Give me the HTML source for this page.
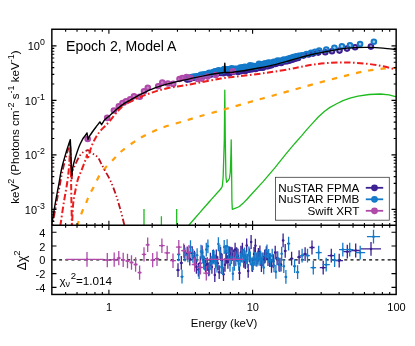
<!DOCTYPE html>
<html><head><meta charset="utf-8"><title>Epoch 2, Model A</title>
<style>
html,body{margin:0;padding:0;background:#fff;}
body{width:415px;height:346px;overflow:hidden;position:relative;font-family:"Liberation Sans",sans-serif;}
svg text{font-family:"Liberation Sans",sans-serif;}
</style></head><body>
<svg width="415" height="346" viewBox="0 0 415 346" style="position:absolute;left:0;top:0;will-change:transform">
<defs><clipPath id="ct"><rect x="51.9" y="29.2" width="344.3" height="196.1"/></clipPath>
<clipPath id="cb"><rect x="51.9" y="225.3" width="344.3" height="69.1"/></clipPath></defs>
<rect x="0" y="0" width="415" height="346" fill="#fff"/>
<g clip-path="url(#ct)" fill="none" stroke-width="2.0">
<g stroke="#3b1f93" fill="#3b1f93" fill-opacity="0.40">
<circle cx="187.1" cy="79.6" r="2.3"/>
<circle cx="189.5" cy="79.2" r="2.3"/>
<circle cx="192.2" cy="78.0" r="2.3"/>
<circle cx="194.4" cy="77.7" r="2.3"/>
<circle cx="196.1" cy="77.0" r="2.3"/>
<circle cx="198.1" cy="76.8" r="2.3"/>
<circle cx="200.2" cy="76.4" r="2.3"/>
<circle cx="201.9" cy="75.7" r="2.3"/>
<circle cx="203.9" cy="76.1" r="2.3"/>
<circle cx="205.5" cy="75.0" r="2.3"/>
<circle cx="207.5" cy="75.7" r="2.3"/>
<circle cx="208.7" cy="74.8" r="2.3"/>
<circle cx="210.2" cy="74.6" r="2.3"/>
<circle cx="212.1" cy="74.3" r="2.3"/>
<circle cx="213.2" cy="73.2" r="2.3"/>
<circle cx="214.7" cy="73.2" r="2.3"/>
<circle cx="216.3" cy="73.5" r="2.3"/>
<circle cx="217.5" cy="73.2" r="2.3"/>
<circle cx="219.3" cy="72.6" r="2.3"/>
<circle cx="220.7" cy="73.0" r="2.3"/>
<circle cx="222.0" cy="72.4" r="2.3"/>
<circle cx="223.6" cy="73.2" r="2.3"/>
<circle cx="224.8" cy="71.9" r="2.3"/>
<circle cx="226.6" cy="72.0" r="2.3"/>
<circle cx="228.0" cy="71.9" r="2.3"/>
<circle cx="229.1" cy="73.4" r="2.3"/>
<circle cx="230.7" cy="72.2" r="2.3"/>
<circle cx="232.2" cy="71.9" r="2.3"/>
<circle cx="233.4" cy="71.6" r="2.3"/>
<circle cx="235.1" cy="71.0" r="2.3"/>
<circle cx="236.8" cy="71.2" r="2.3"/>
<circle cx="238.1" cy="71.9" r="2.3"/>
<circle cx="239.5" cy="70.2" r="2.3"/>
<circle cx="241.2" cy="71.1" r="2.3"/>
<circle cx="242.3" cy="70.5" r="2.3"/>
<circle cx="243.9" cy="70.3" r="2.3"/>
<circle cx="245.3" cy="71.0" r="2.3"/>
<circle cx="246.6" cy="69.9" r="2.3"/>
<circle cx="248.1" cy="69.7" r="2.3"/>
<circle cx="249.6" cy="69.4" r="2.3"/>
<circle cx="250.9" cy="69.3" r="2.3"/>
<circle cx="252.7" cy="69.1" r="2.3"/>
<circle cx="253.7" cy="68.7" r="2.3"/>
<circle cx="255.6" cy="68.9" r="2.3"/>
<circle cx="256.6" cy="67.6" r="2.3"/>
<circle cx="258.6" cy="68.0" r="2.3"/>
<circle cx="260.1" cy="67.8" r="2.3"/>
<circle cx="261.4" cy="67.0" r="2.3"/>
<circle cx="262.9" cy="67.8" r="2.3"/>
<circle cx="264.4" cy="65.9" r="2.3"/>
<circle cx="266.1" cy="66.3" r="2.3"/>
<circle cx="268.0" cy="66.2" r="2.3"/>
<circle cx="269.8" cy="65.5" r="2.3"/>
<circle cx="271.5" cy="65.2" r="2.3"/>
<circle cx="273.3" cy="63.7" r="2.3"/>
<circle cx="275.3" cy="63.9" r="2.3"/>
<circle cx="277.1" cy="63.3" r="2.3"/>
<circle cx="278.8" cy="62.8" r="2.3"/>
<circle cx="281.2" cy="62.9" r="2.3"/>
<circle cx="283.2" cy="61.3" r="2.3"/>
<circle cx="285.2" cy="61.4" r="2.3"/>
<circle cx="287.6" cy="61.1" r="2.3"/>
<circle cx="289.7" cy="60.6" r="2.3"/>
<circle cx="292.4" cy="59.7" r="2.3"/>
<circle cx="295.3" cy="58.8" r="2.3"/>
<circle cx="298.1" cy="58.0" r="2.3"/>
<circle cx="303.5" cy="55.6" r="2.3"/>
<circle cx="308.5" cy="54.5" r="2.3"/>
<circle cx="313.0" cy="53.6" r="2.3"/>
<circle cx="318.2" cy="52.6" r="2.3"/>
<circle cx="325.3" cy="52.2" r="2.3"/>
<circle cx="332.0" cy="51.2" r="2.3"/>
<circle cx="339.5" cy="50.6" r="2.3"/>
<circle cx="347.0" cy="48.6" r="2.3"/>
<circle cx="355.1" cy="47.2" r="2.3"/>
<circle cx="370.9" cy="46.6" r="2.3"/>
</g>
<g stroke="#1479c9" fill="#1479c9" fill-opacity="0.40">
<circle cx="187.5" cy="77.8" r="2.3"/>
<circle cx="190.6" cy="77.4" r="2.3"/>
<circle cx="192.8" cy="76.9" r="2.3"/>
<circle cx="194.9" cy="76.5" r="2.3"/>
<circle cx="196.9" cy="76.4" r="2.3"/>
<circle cx="199.3" cy="76.0" r="2.3"/>
<circle cx="200.9" cy="74.8" r="2.3"/>
<circle cx="202.5" cy="74.7" r="2.3"/>
<circle cx="204.4" cy="74.2" r="2.3"/>
<circle cx="206.0" cy="74.7" r="2.3"/>
<circle cx="207.6" cy="73.9" r="2.3"/>
<circle cx="209.2" cy="72.8" r="2.3"/>
<circle cx="211.0" cy="73.2" r="2.3"/>
<circle cx="212.8" cy="72.3" r="2.3"/>
<circle cx="214.2" cy="71.8" r="2.3"/>
<circle cx="215.3" cy="71.2" r="2.3"/>
<circle cx="216.7" cy="71.3" r="2.3"/>
<circle cx="218.5" cy="70.4" r="2.3"/>
<circle cx="219.7" cy="70.8" r="2.3"/>
<circle cx="221.5" cy="71.2" r="2.3"/>
<circle cx="222.9" cy="70.4" r="2.3"/>
<circle cx="224.2" cy="69.1" r="2.3"/>
<circle cx="225.4" cy="69.2" r="2.3"/>
<circle cx="226.7" cy="69.4" r="2.3"/>
<circle cx="228.2" cy="69.4" r="2.3"/>
<circle cx="230.0" cy="69.7" r="2.3"/>
<circle cx="231.6" cy="68.4" r="2.3"/>
<circle cx="233.1" cy="69.7" r="2.3"/>
<circle cx="234.5" cy="68.9" r="2.3"/>
<circle cx="235.5" cy="69.1" r="2.3"/>
<circle cx="237.0" cy="68.8" r="2.3"/>
<circle cx="238.8" cy="69.0" r="2.3"/>
<circle cx="240.3" cy="67.6" r="2.3"/>
<circle cx="241.7" cy="68.1" r="2.3"/>
<circle cx="242.7" cy="67.2" r="2.3"/>
<circle cx="244.6" cy="66.7" r="2.3"/>
<circle cx="246.0" cy="67.0" r="2.3"/>
<circle cx="247.5" cy="67.1" r="2.3"/>
<circle cx="248.7" cy="67.2" r="2.3"/>
<circle cx="250.1" cy="65.4" r="2.3"/>
<circle cx="251.6" cy="67.0" r="2.3"/>
<circle cx="252.9" cy="65.8" r="2.3"/>
<circle cx="254.3" cy="66.4" r="2.3"/>
<circle cx="256.2" cy="66.4" r="2.3"/>
<circle cx="257.2" cy="65.9" r="2.3"/>
<circle cx="259.0" cy="63.9" r="2.3"/>
<circle cx="260.4" cy="64.6" r="2.3"/>
<circle cx="261.7" cy="64.5" r="2.3"/>
<circle cx="263.9" cy="63.9" r="2.3"/>
<circle cx="265.5" cy="63.4" r="2.3"/>
<circle cx="266.9" cy="64.1" r="2.3"/>
<circle cx="268.4" cy="62.6" r="2.3"/>
<circle cx="270.2" cy="62.7" r="2.3"/>
<circle cx="272.2" cy="62.8" r="2.3"/>
<circle cx="273.8" cy="61.9" r="2.3"/>
<circle cx="276.0" cy="61.8" r="2.3"/>
<circle cx="277.6" cy="60.6" r="2.3"/>
<circle cx="279.9" cy="60.9" r="2.3"/>
<circle cx="281.6" cy="60.7" r="2.3"/>
<circle cx="283.7" cy="59.5" r="2.3"/>
<circle cx="285.9" cy="59.7" r="2.3"/>
<circle cx="288.0" cy="58.7" r="2.3"/>
<circle cx="290.3" cy="58.1" r="2.3"/>
<circle cx="293.2" cy="57.1" r="2.3"/>
<circle cx="296.1" cy="56.3" r="2.3"/>
<circle cx="298.9" cy="55.8" r="2.3"/>
<circle cx="302.0" cy="55.2" r="2.3"/>
<circle cx="306.5" cy="54.0" r="2.3"/>
<circle cx="311.0" cy="52.9" r="2.3"/>
<circle cx="315.0" cy="51.7" r="2.3"/>
<circle cx="319.2" cy="50.6" r="2.3"/>
<circle cx="326.3" cy="49.6" r="2.3"/>
<circle cx="334.4" cy="47.8" r="2.3"/>
<circle cx="341.9" cy="46.2" r="2.3"/>
<circle cx="350.0" cy="45.4" r="2.3"/>
<circle cx="360.1" cy="44.1" r="2.3"/>
<circle cx="373.9" cy="41.7" r="2.3"/>
</g>
<g stroke="#b048aa" fill="#b048aa" fill-opacity="0.70">
<circle cx="87.7" cy="139.0" r="2.3"/>
<circle cx="107.2" cy="117.9" r="2.3"/>
<circle cx="113.9" cy="110.5" r="2.3"/>
<circle cx="118.8" cy="106.4" r="2.3"/>
<circle cx="122.5" cy="103.0" r="2.3"/>
<circle cx="126.0" cy="101.2" r="2.3"/>
<circle cx="130.2" cy="99.2" r="2.3"/>
<circle cx="134.0" cy="96.3" r="2.3"/>
<circle cx="139.8" cy="96.7" r="2.3"/>
<circle cx="144.0" cy="91.2" r="2.3"/>
<circle cx="147.8" cy="87.8" r="2.3"/>
<circle cx="158.2" cy="86.3" r="2.3"/>
<circle cx="162.3" cy="82.5" r="2.3"/>
<circle cx="167.9" cy="83.5" r="2.3"/>
<circle cx="173.2" cy="83.9" r="2.3"/>
<circle cx="179.5" cy="79.0" r="2.3"/>
<circle cx="182.4" cy="78.0" r="2.3"/>
<circle cx="186.5" cy="77.1" r="2.3"/>
<circle cx="190.6" cy="78.0" r="2.3"/>
<circle cx="197.8" cy="79.0" r="2.3"/>
<circle cx="201.5" cy="78.6" r="2.3"/>
<circle cx="207.6" cy="76.6" r="2.3"/>
<circle cx="215.8" cy="75.0" r="2.3"/>
<circle cx="233.0" cy="71.3" r="2.3"/>
</g>
</g>
<g clip-path="url(#ct)" fill="none" stroke-linejoin="round">
<path d="M188.20,226.00 C190.17,223.72 196.37,216.47 200.00,212.30 C203.63,208.13 207.00,204.38 210.00,201.00 C213.00,197.62 216.12,194.13 218.00,192.00 C219.88,189.87 220.57,189.32 221.30,188.20 C222.03,187.08 222.08,187.33 222.40,185.30 C222.72,183.27 223.07,177.55 223.20,176.00 L224.3,140.0 L224.8,90.2 L225.3,140.0 L225.9,176.0 L226.6,182.3 L228.2,180.5 L229.4,178.5 L230.3,172.0 L230.9,155.0 L231.2,139.8 L231.5,160.0 L231.9,200.0 L232.3,209.3 L235.0,208.3 L238.4,207.0 L240.5,205.6 L242.7,203.6 L247.0,199.2 L251.5,194.3 L263.1,181.6 L274.6,168.1 L286.2,153.7 L295.0,143.2 L301.5,135.9 L307.0,129.4 L313.1,122.6 L318.5,116.8 L324.6,111.3 L330.0,107.4 L336.2,104.0 L343.0,100.6 L350.0,98.2 L358.0,96.2 L369.1,94.5 L380.4,94.0 L389.0,94.9 L396.4,96.8" stroke="#1dba1d" stroke-width="1.3"/>
<path d="M144.0,226 V209.0" stroke="#1dba1d" stroke-width="1.3"/>
<path d="M161.4,226 V216.3" stroke="#1dba1d" stroke-width="1.3"/>
<path d="M176.7,226 V209.0" stroke="#1dba1d" stroke-width="1.3"/>
<path d="M77.30,226.00 C77.45,225.47 77.35,225.30 78.20,222.80 C79.05,220.30 81.02,214.47 82.40,211.00 C83.78,207.53 85.32,204.75 86.50,202.00 C87.68,199.25 88.28,197.03 89.50,194.50 C90.72,191.97 92.18,189.90 93.80,186.80 C95.42,183.70 97.28,179.05 99.20,175.90 C101.12,172.75 102.58,171.00 105.30,167.90 C108.02,164.80 112.55,160.28 115.50,157.30 C118.45,154.32 120.05,152.47 123.00,150.00 C125.95,147.53 130.12,144.62 133.20,142.50 C136.28,140.38 137.03,139.63 141.50,137.30 C145.97,134.97 153.03,131.17 160.00,128.50 C166.97,125.83 176.63,123.33 183.30,121.30 C189.97,119.27 193.08,118.30 200.00,116.30 C206.92,114.30 216.47,111.68 224.80,109.30 C233.13,106.92 242.47,104.15 250.00,102.00 C257.53,99.85 263.33,98.27 270.00,96.40 C276.67,94.53 282.83,92.82 290.00,90.80 C297.17,88.78 304.48,86.62 313.00,84.30 C321.52,81.98 333.77,78.80 341.10,76.90 C348.43,75.00 352.33,73.97 357.00,72.90 C361.67,71.83 364.77,71.20 369.10,70.50 C373.43,69.80 378.45,69.15 383.00,68.70 C387.55,68.25 394.17,67.95 396.40,67.80" stroke="#ff9f0a" stroke-width="2.2" stroke-dasharray="5.4,7.08" stroke-dashoffset="0.3"/>
<path d="M52.30,226.00 C52.98,222.17 55.23,209.33 56.40,203.00 C57.57,196.67 58.28,193.33 59.30,188.00 C60.32,182.67 61.28,176.58 62.50,171.00 C63.72,165.42 65.55,158.50 66.60,154.50 C67.65,150.50 68.27,148.92 68.80,147.00 C69.33,145.08 69.63,143.67 69.80,143.00 L69.8,143.0 L70.6,158.0 L71.4,176.0 L71.8,180.0 L71.80,180.00 C71.90,178.60 71.78,174.27 72.40,171.60 C73.02,168.93 74.28,166.63 75.50,164.00 C76.72,161.37 78.40,157.78 79.70,155.80 C81.00,153.82 82.18,152.97 83.30,152.10 C84.42,151.23 85.53,150.88 86.40,150.60 C87.27,150.32 87.48,149.90 88.50,150.40 C89.52,150.90 91.23,152.70 92.50,153.60 C93.77,154.50 95.10,155.03 96.10,155.80 C97.10,156.57 97.68,156.97 98.50,158.20 C99.32,159.43 99.88,161.07 101.00,163.20 C102.12,165.33 103.58,167.98 105.20,171.00 C106.82,174.02 108.90,177.30 110.70,181.30 C112.50,185.30 114.37,190.22 116.00,195.00 C117.63,199.78 119.07,204.83 120.50,210.00 C121.93,215.17 123.92,223.33 124.60,226.00" stroke="#bd121c" stroke-width="1.8" stroke-dasharray="6.3,2.4,1.4,2.4,1.4,2.4" stroke-dashoffset="7.6"/>
<path d="M60.30,226.00 C60.90,222.00 62.73,209.33 63.90,202.00 C65.07,194.67 66.45,187.83 67.30,182.00 C68.15,176.17 68.55,172.17 69.00,167.00 C69.45,161.83 69.78,154.37 70.00,151.00 C70.22,147.63 70.25,147.50 70.30,146.80 L70.3,146.8 L70.8,165.0 L71.4,200.0 L71.9,226.0" stroke="#ee1c1c" stroke-width="2.0" stroke-dasharray="6.4,2.5,1.6,2.5" stroke-dashoffset="0.0"/>
<path d="M72.00,226.00 C72.20,222.25 72.62,209.50 73.20,203.50 C73.78,197.50 74.70,194.08 75.50,190.00 C76.30,185.92 77.00,182.28 78.00,179.00 C79.00,175.72 80.30,173.37 81.50,170.30 C82.70,167.23 84.30,163.15 85.20,160.60 C86.10,158.05 86.62,155.93 86.90,155.00 L86.9,155.0 L87.7,159.2 L87.70,159.20 C87.98,158.22 88.82,155.28 89.40,153.30 C89.98,151.32 90.48,149.27 91.20,147.30 C91.92,145.33 92.83,143.30 93.70,141.50 C94.57,139.70 95.35,138.20 96.40,136.50 C97.45,134.80 98.58,133.02 100.00,131.30 C101.42,129.58 103.30,127.87 104.90,126.20 C106.50,124.53 106.77,124.53 109.60,121.30 C112.43,118.07 117.82,110.38 121.90,106.80 C125.98,103.22 130.02,101.83 134.10,99.80 C138.18,97.77 142.30,96.17 146.40,94.60 C150.50,93.03 154.60,91.58 158.70,90.40 C162.80,89.22 166.90,88.30 171.00,87.50 C175.10,86.70 178.47,86.43 183.30,85.60 C188.13,84.77 193.75,83.67 200.00,82.50 C206.25,81.33 214.13,79.65 220.80,78.60 C227.47,77.55 233.22,77.05 240.00,76.20 C246.78,75.35 255.67,74.28 261.50,73.50 C267.33,72.72 270.25,72.25 275.00,71.50 C279.75,70.75 285.83,69.75 290.00,69.00 C294.17,68.25 296.17,67.73 300.00,67.00 C303.83,66.27 308.50,65.25 313.00,64.60 C317.50,63.95 322.32,63.45 327.00,63.10 C331.68,62.75 336.43,62.55 341.10,62.50 C345.77,62.45 350.33,62.55 355.00,62.80 C359.67,63.05 364.43,63.42 369.10,64.00 C373.77,64.58 378.45,65.35 383.00,66.30 C387.55,67.25 394.17,69.13 396.40,69.70" stroke="#ee1c1c" stroke-width="2.0" stroke-dasharray="6.4,2.5,1.6,2.5" stroke-dashoffset="7.8"/>
<path d="M51.40,226.00 C52.10,221.90 54.42,208.07 55.60,201.40 C56.78,194.73 57.47,191.57 58.50,186.00 C59.53,180.43 60.50,173.72 61.80,168.00 C63.10,162.28 65.13,155.70 66.30,151.70 C67.47,147.70 68.13,146.02 68.80,144.00 C69.47,141.98 70.05,140.33 70.30,139.60 L70.3,139.6 L70.8,150.0 L71.4,168.0 L71.8,175.5 L71.80,175.50 C71.98,174.08 72.32,169.95 72.90,167.00 C73.48,164.05 74.28,161.17 75.30,157.80 C76.32,154.43 77.82,149.83 79.00,146.80 C80.18,143.77 81.42,141.40 82.40,139.60 C83.38,137.80 84.13,137.12 84.90,136.00 C85.67,134.88 86.65,133.42 87.00,132.90 L87.0,132.9 L88.0,139.6 L88.00,139.60 C88.20,139.12 88.73,137.64 89.20,136.75 C89.67,135.86 90.10,135.30 90.80,134.25 C91.50,133.20 92.47,131.78 93.40,130.48 C94.33,129.18 95.32,127.88 96.40,126.45 C97.48,125.02 99.32,122.65 99.90,121.89 L99.9,121.9 L101.6,124.7 L101.60,124.70 C101.83,124.30 102.43,123.15 103.00,122.28 C103.57,121.40 103.90,120.54 105.00,119.45 C106.10,118.36 107.93,117.18 109.60,115.72 C111.27,114.26 112.95,112.46 115.00,110.70 C117.05,108.94 119.73,106.70 121.90,105.13 C124.07,103.56 125.97,102.50 128.00,101.28 C130.03,100.06 132.10,98.93 134.10,97.84 C136.10,96.74 137.95,95.79 140.00,94.73 C142.05,93.68 144.40,92.45 146.40,91.52 C148.40,90.59 149.95,89.98 152.00,89.17 C154.05,88.36 156.53,87.41 158.70,86.66 C160.87,85.90 162.95,85.23 165.00,84.65 C167.05,84.07 168.83,83.69 171.00,83.15 C173.17,82.61 175.67,81.97 178.00,81.43 C180.33,80.89 182.17,80.55 185.00,79.91 C187.83,79.28 191.30,78.44 195.00,77.64 C198.70,76.83 203.87,75.73 207.20,75.07 C210.53,74.41 212.23,74.09 215.00,73.69 C217.77,73.28 222.33,72.80 223.80,72.63 L223.8,72.6 L224.4,72.3 L224.8,63.3 L225.3,72.4 L226.0,72.5 L226.00,72.50 C226.67,72.47 229.07,72.34 230.00,72.33 C230.93,72.33 230.88,72.54 231.60,72.49 C232.32,72.44 231.57,72.44 234.30,72.03 C237.03,71.61 243.47,70.74 248.00,69.98 C252.53,69.22 257.00,68.39 261.50,67.49 C266.00,66.59 270.25,65.75 275.00,64.58 C279.75,63.42 285.83,61.64 290.00,60.50 C294.17,59.35 296.17,58.74 300.00,57.69 C303.83,56.64 308.50,55.23 313.00,54.20 C317.50,53.17 322.32,52.40 327.00,51.51 C331.68,50.62 336.43,49.52 341.10,48.87 C345.77,48.22 350.33,47.84 355.00,47.60 C359.67,47.36 364.43,47.31 369.10,47.40 C373.77,47.49 378.45,47.79 383.00,48.16 C387.55,48.53 394.17,49.37 396.40,49.61" stroke="#000" stroke-width="1.4"/>
</g>
<path d="M52.9,259.8 H396.1" stroke="#000" stroke-width="1.2" stroke-dasharray="3,3.2" fill="none"/>
<g clip-path="url(#cb)" fill="none" stroke-width="1.3">
<path d="M176.3,270.1H179.7M178.0,263.2V277.0M179.8,262.9H182.8M181.3,256.0V269.8M182.9,251.8H185.8M184.3,244.9V258.7M185.9,253.3H188.5M187.2,246.4V260.2M188.6,258.7H191.0M189.8,251.8V265.6M191.1,253.2H193.3M192.2,246.3V260.1M193.4,257.6H195.4M194.4,250.7V264.5M195.4,266.9H197.4M196.4,260.0V273.8M197.4,269.6H199.3M198.4,262.7V276.5M199.4,263.2H201.2M200.3,256.3V270.1M201.2,252.4H203.0M202.1,245.5V259.3M203.0,262.7H204.7M203.9,255.8V269.6M204.8,265.0H206.4M205.6,258.1V271.9M206.4,264.1H208.0M207.2,257.2V271.0M208.1,269.3H209.6M208.8,262.4V276.2M209.6,259.6H211.1M210.4,252.7V266.5M211.2,266.9H212.6M211.9,260.0V273.8M212.6,256.3H214.1M213.4,249.4V263.2M214.1,275.0H215.5M214.8,268.1V281.9M215.5,256.5H217.0M216.3,249.6V263.4M217.0,263.2H218.4M217.7,256.3V270.1M218.4,272.2H219.9M219.2,265.3V279.1M219.9,253.8H221.3M220.6,246.9V260.7M221.3,260.7H222.8M222.1,253.8V267.6M222.8,274.2H224.2M223.5,267.3V281.1M224.2,264.8H225.7M225.0,257.9V271.7M225.7,256.8H227.1M226.4,249.9V263.7M227.1,261.9H228.6M227.9,255.0V268.8M228.6,253.4H230.0M229.3,246.5V260.3M230.0,253.6H231.5M230.8,246.7V260.5M231.5,254.2H232.9M232.2,247.3V261.1M232.9,256.5H234.4M233.7,249.6V263.4M234.4,249.6H235.8M235.1,242.7V256.5M235.8,254.2H237.3M236.6,247.3V261.1M237.3,255.7H238.7M238.0,248.8V262.6M238.7,273.1H240.2M239.5,266.2V280.0M240.2,252.6H241.6M240.9,245.7V259.5M241.6,249.7H243.1M242.4,242.8V256.6M243.1,260.8H244.5M243.8,253.9V267.7M244.5,262.0H246.0M245.3,255.1V268.9M246.0,245.4H247.4M246.7,238.5V252.3M247.4,270.9H248.9M248.2,264.0V277.8M248.9,255.5H250.3M249.6,248.6V262.4M250.3,242.0H251.8M251.1,235.1V248.9M251.8,265.2H253.2M252.5,258.3V272.1M253.2,254.0H254.7M254.0,247.1V260.9M254.7,245.7H256.1M255.4,238.8V252.6M256.1,259.6H257.6M256.9,252.7V266.5M257.6,254.9H259.1M258.4,248.0V261.8M259.1,252.5H260.7M259.9,245.6V259.4M260.6,265.0H262.2M261.4,258.1V271.9M262.2,259.4H263.8M263.0,252.5V266.3M263.8,256.7H265.5M264.7,249.8V263.6M265.5,253.1H267.2M266.3,246.2V260.0M267.1,259.0H268.9M268.0,252.1V265.9M268.9,260.1H270.6M269.7,253.2V267.0M270.6,265.8H272.4M271.5,258.9V272.7M272.4,261.2H274.3M273.3,254.3V268.1M274.2,252.6H276.1M275.2,245.7V259.5M276.1,258.1H278.1M277.1,251.2V265.0M278.0,264.7H280.0M279.0,257.8V271.6M280.0,264.6H282.0M281.0,257.7V271.5M282.0,240.4H284.2M283.1,233.5V247.3M283.9,250.9H286.5M285.2,244.0V257.8M289.8,258.6H293.4M291.6,251.7V265.5M297.1,257.1H301.1M299.1,250.2V264.0M302.9,254.1H307.3M305.1,247.2V261.0M309.4,247.5H314.6M312.0,240.6V254.4M319.8,267.7H326.6M323.2,260.8V274.6M327.7,255.6H334.9M331.3,248.7V262.5M335.4,260.7H343.0M339.2,253.8V267.6M343.3,251.7H351.3M347.3,244.8V258.6M351.3,250.5H360.1M355.7,243.6V257.4M360.6,248.9H381.0M371.0,242.0V255.8" stroke="#3b1f93"/>
<g fill="#3b1f93" stroke="none"><circle cx="178.0" cy="270.1" r="1.25"/><circle cx="181.3" cy="262.9" r="1.25"/><circle cx="184.3" cy="251.8" r="1.25"/><circle cx="187.2" cy="253.3" r="1.25"/><circle cx="189.8" cy="258.7" r="1.25"/><circle cx="192.2" cy="253.2" r="1.25"/><circle cx="194.4" cy="257.6" r="1.25"/><circle cx="196.4" cy="266.9" r="1.25"/><circle cx="198.4" cy="269.6" r="1.25"/><circle cx="200.3" cy="263.2" r="1.25"/><circle cx="202.1" cy="252.4" r="1.25"/><circle cx="203.9" cy="262.7" r="1.25"/><circle cx="205.6" cy="265.0" r="1.25"/><circle cx="207.2" cy="264.1" r="1.25"/><circle cx="208.8" cy="269.3" r="1.25"/><circle cx="210.4" cy="259.6" r="1.25"/><circle cx="211.9" cy="266.9" r="1.25"/><circle cx="213.4" cy="256.3" r="1.25"/><circle cx="214.8" cy="275.0" r="1.25"/><circle cx="216.3" cy="256.5" r="1.25"/><circle cx="217.7" cy="263.2" r="1.25"/><circle cx="219.2" cy="272.2" r="1.25"/><circle cx="220.6" cy="253.8" r="1.25"/><circle cx="222.1" cy="260.7" r="1.25"/><circle cx="223.5" cy="274.2" r="1.25"/><circle cx="225.0" cy="264.8" r="1.25"/><circle cx="226.4" cy="256.8" r="1.25"/><circle cx="227.9" cy="261.9" r="1.25"/><circle cx="229.3" cy="253.4" r="1.25"/><circle cx="230.8" cy="253.6" r="1.25"/><circle cx="232.2" cy="254.2" r="1.25"/><circle cx="233.7" cy="256.5" r="1.25"/><circle cx="235.1" cy="249.6" r="1.25"/><circle cx="236.6" cy="254.2" r="1.25"/><circle cx="238.0" cy="255.7" r="1.25"/><circle cx="239.5" cy="273.1" r="1.25"/><circle cx="240.9" cy="252.6" r="1.25"/><circle cx="242.4" cy="249.7" r="1.25"/><circle cx="243.8" cy="260.8" r="1.25"/><circle cx="245.3" cy="262.0" r="1.25"/><circle cx="246.7" cy="245.4" r="1.25"/><circle cx="248.2" cy="270.9" r="1.25"/><circle cx="249.6" cy="255.5" r="1.25"/><circle cx="251.1" cy="242.0" r="1.25"/><circle cx="252.5" cy="265.2" r="1.25"/><circle cx="254.0" cy="254.0" r="1.25"/><circle cx="255.4" cy="245.7" r="1.25"/><circle cx="256.9" cy="259.6" r="1.25"/><circle cx="258.4" cy="254.9" r="1.25"/><circle cx="259.9" cy="252.5" r="1.25"/><circle cx="261.4" cy="265.0" r="1.25"/><circle cx="263.0" cy="259.4" r="1.25"/><circle cx="264.7" cy="256.7" r="1.25"/><circle cx="266.3" cy="253.1" r="1.25"/><circle cx="268.0" cy="259.0" r="1.25"/><circle cx="269.7" cy="260.1" r="1.25"/><circle cx="271.5" cy="265.8" r="1.25"/><circle cx="273.3" cy="261.2" r="1.25"/><circle cx="275.2" cy="252.6" r="1.25"/><circle cx="277.1" cy="258.1" r="1.25"/><circle cx="279.0" cy="264.7" r="1.25"/><circle cx="281.0" cy="264.6" r="1.25"/><circle cx="283.1" cy="240.4" r="1.25"/><circle cx="285.2" cy="250.9" r="1.25"/><circle cx="291.6" cy="258.6" r="1.25"/><circle cx="299.1" cy="257.1" r="1.25"/><circle cx="305.1" cy="254.1" r="1.25"/><circle cx="312.0" cy="247.5" r="1.25"/><circle cx="323.2" cy="267.7" r="1.25"/><circle cx="331.3" cy="255.6" r="1.25"/><circle cx="339.2" cy="260.7" r="1.25"/><circle cx="347.3" cy="251.7" r="1.25"/><circle cx="355.7" cy="250.5" r="1.25"/><circle cx="371.0" cy="248.9" r="1.25"/></g>
<path d="M177.0,254.4H180.3M178.7,247.5V261.3M180.5,276.7H183.5M182.0,269.8V283.6M183.6,254.5H186.5M185.0,247.6V261.4M186.6,255.4H189.2M187.9,248.5V262.3M189.3,247.1H191.7M190.5,240.2V254.0M191.8,255.8H194.0M192.9,248.9V262.7M194.1,259.2H196.1M195.1,252.3V266.1M196.1,255.2H198.1M197.1,248.3V262.1M198.1,272.2H200.0M199.1,265.3V279.1M200.1,251.6H201.9M201.0,244.7V258.5M201.9,256.5H203.7M202.8,249.6V263.4M203.7,263.6H205.4M204.6,256.7V270.5M205.5,249.6H207.1M206.3,242.7V256.5M207.1,246.3H208.7M207.9,239.4V253.2M208.8,268.4H210.3M209.5,261.5V275.3M210.3,263.4H211.8M211.1,256.5V270.3M211.9,256.8H213.3M212.6,249.9V263.7M213.3,257.5H214.8M214.1,250.6V264.4M214.8,261.5H216.2M215.5,254.6V268.4M216.2,265.5H217.7M217.0,258.6V272.4M217.7,244.1H219.1M218.4,237.2V251.0M219.1,251.6H220.6M219.9,244.7V258.5M220.6,267.0H222.0M221.3,260.1V273.9M222.0,268.0H223.5M222.8,261.1V274.9M223.5,247.0H224.9M224.2,240.1V253.9M224.9,251.9H226.4M225.7,245.0V258.8M226.4,246.2H227.8M227.1,239.3V253.1M227.8,253.2H229.3M228.6,246.3V260.1M229.3,264.8H230.7M230.0,257.9V271.7M230.7,257.0H232.2M231.5,250.1V263.9M232.2,273.7H233.6M232.9,266.8V280.6M233.6,263.9H235.1M234.4,257.0V270.8M235.1,259.2H236.5M235.8,252.3V266.1M236.5,255.2H238.0M237.3,248.3V262.1M238.0,263.8H239.4M238.7,256.9V270.7M239.4,259.6H240.9M240.2,252.7V266.5M240.9,255.6H242.3M241.6,248.7V262.5M242.3,256.2H243.8M243.1,249.3V263.1M243.8,254.4H245.2M244.5,247.5V261.3M245.2,257.3H246.7M246.0,250.4V264.2M246.7,261.0H248.1M247.4,254.1V267.9M248.1,253.3H249.6M248.9,246.4V260.2M249.6,258.4H251.0M250.3,251.5V265.3M251.0,264.5H252.5M251.8,257.6V271.4M252.5,263.1H253.9M253.2,256.2V270.0M253.9,258.8H255.4M254.7,251.9V265.7M255.4,259.5H256.8M256.1,252.6V266.4M256.8,257.7H258.3M257.6,250.8V264.6M258.3,258.8H259.8M259.1,251.9V265.7M259.8,257.6H261.4M260.6,250.7V264.5M261.3,259.7H262.9M262.1,252.8V266.6M262.9,267.4H264.5M263.7,260.5V274.3M264.5,255.9H266.2M265.4,249.0V262.8M266.2,251.5H267.9M267.0,244.6V258.4M267.8,255.8H269.6M268.7,248.9V262.7M269.6,260.1H271.3M270.4,253.2V267.0M271.3,255.7H273.1M272.2,248.8V262.6M273.1,265.4H275.0M274.0,258.5V272.3M274.9,271.8H276.8M275.9,264.9V278.7M276.8,258.4H278.8M277.8,251.5V265.3M278.7,265.2H280.7M279.7,258.3V272.1M280.7,253.7H282.7M281.7,246.8V260.6M282.7,266.2H284.9M283.8,259.3V273.1M284.6,276.9H287.2M285.9,270.0V283.8M287.0,243.6H290.2M288.6,236.7V250.5M293.0,266.2H296.2M294.6,259.3V273.1M296.0,272.2H299.2M297.6,265.3V279.1M300.1,255.6H304.1M302.1,248.7V262.5M305.1,255.6H309.9M307.5,248.7V262.5M310.5,267.7H316.1M313.3,260.8V274.6M315.7,252.6H321.7M318.7,245.7V259.5M322.6,264.7H329.8M326.2,257.8V271.6M330.8,260.1H338.4M334.6,253.2V267.0M339.0,249.6H346.6M342.8,242.7V256.5M345.9,249.6H353.5M349.7,242.7V256.5M355.2,252.6H365.2M360.2,245.7V259.5M366.9,236.7H380.1M373.5,229.8V243.6" stroke="#1479c9"/>
<g fill="#1479c9" stroke="none"><circle cx="178.7" cy="254.4" r="1.25"/><circle cx="182.0" cy="276.7" r="1.25"/><circle cx="185.0" cy="254.5" r="1.25"/><circle cx="187.9" cy="255.4" r="1.25"/><circle cx="190.5" cy="247.1" r="1.25"/><circle cx="192.9" cy="255.8" r="1.25"/><circle cx="195.1" cy="259.2" r="1.25"/><circle cx="197.1" cy="255.2" r="1.25"/><circle cx="199.1" cy="272.2" r="1.25"/><circle cx="201.0" cy="251.6" r="1.25"/><circle cx="202.8" cy="256.5" r="1.25"/><circle cx="204.6" cy="263.6" r="1.25"/><circle cx="206.3" cy="249.6" r="1.25"/><circle cx="207.9" cy="246.3" r="1.25"/><circle cx="209.5" cy="268.4" r="1.25"/><circle cx="211.1" cy="263.4" r="1.25"/><circle cx="212.6" cy="256.8" r="1.25"/><circle cx="214.1" cy="257.5" r="1.25"/><circle cx="215.5" cy="261.5" r="1.25"/><circle cx="217.0" cy="265.5" r="1.25"/><circle cx="218.4" cy="244.1" r="1.25"/><circle cx="219.9" cy="251.6" r="1.25"/><circle cx="221.3" cy="267.0" r="1.25"/><circle cx="222.8" cy="268.0" r="1.25"/><circle cx="224.2" cy="247.0" r="1.25"/><circle cx="225.7" cy="251.9" r="1.25"/><circle cx="227.1" cy="246.2" r="1.25"/><circle cx="228.6" cy="253.2" r="1.25"/><circle cx="230.0" cy="264.8" r="1.25"/><circle cx="231.5" cy="257.0" r="1.25"/><circle cx="232.9" cy="273.7" r="1.25"/><circle cx="234.4" cy="263.9" r="1.25"/><circle cx="235.8" cy="259.2" r="1.25"/><circle cx="237.3" cy="255.2" r="1.25"/><circle cx="238.7" cy="263.8" r="1.25"/><circle cx="240.2" cy="259.6" r="1.25"/><circle cx="241.6" cy="255.6" r="1.25"/><circle cx="243.1" cy="256.2" r="1.25"/><circle cx="244.5" cy="254.4" r="1.25"/><circle cx="246.0" cy="257.3" r="1.25"/><circle cx="247.4" cy="261.0" r="1.25"/><circle cx="248.9" cy="253.3" r="1.25"/><circle cx="250.3" cy="258.4" r="1.25"/><circle cx="251.8" cy="264.5" r="1.25"/><circle cx="253.2" cy="263.1" r="1.25"/><circle cx="254.7" cy="258.8" r="1.25"/><circle cx="256.1" cy="259.5" r="1.25"/><circle cx="257.6" cy="257.7" r="1.25"/><circle cx="259.1" cy="258.8" r="1.25"/><circle cx="260.6" cy="257.6" r="1.25"/><circle cx="262.1" cy="259.7" r="1.25"/><circle cx="263.7" cy="267.4" r="1.25"/><circle cx="265.4" cy="255.9" r="1.25"/><circle cx="267.0" cy="251.5" r="1.25"/><circle cx="268.7" cy="255.8" r="1.25"/><circle cx="270.4" cy="260.1" r="1.25"/><circle cx="272.2" cy="255.7" r="1.25"/><circle cx="274.0" cy="265.4" r="1.25"/><circle cx="275.9" cy="271.8" r="1.25"/><circle cx="277.8" cy="258.4" r="1.25"/><circle cx="279.7" cy="265.2" r="1.25"/><circle cx="281.7" cy="253.7" r="1.25"/><circle cx="283.8" cy="266.2" r="1.25"/><circle cx="285.9" cy="276.9" r="1.25"/><circle cx="288.6" cy="243.6" r="1.25"/><circle cx="294.6" cy="266.2" r="1.25"/><circle cx="297.6" cy="272.2" r="1.25"/><circle cx="302.1" cy="255.6" r="1.25"/><circle cx="307.5" cy="255.6" r="1.25"/><circle cx="313.3" cy="267.7" r="1.25"/><circle cx="318.7" cy="252.6" r="1.25"/><circle cx="326.2" cy="264.7" r="1.25"/><circle cx="334.6" cy="260.1" r="1.25"/><circle cx="342.8" cy="249.6" r="1.25"/><circle cx="349.7" cy="249.6" r="1.25"/><circle cx="360.2" cy="252.6" r="1.25"/><circle cx="373.5" cy="236.7" r="1.25"/></g>
<path d="M65.9,259.4H103.6M87.0,252.0V266.8M103.7,260.1H110.9M107.3,252.9V267.3M111.6,259.6H116.8M114.2,252.4V266.8M116.8,258.1H120.8M118.8,250.9V265.3M121.2,259.9H125.2M123.2,252.7V267.1M125.5,261.0H129.5M127.5,253.8V268.2M129.5,262.5H133.5M131.5,255.3V269.7M133.6,264.5H137.6M135.6,257.3V271.7M137.6,272.6H141.6M139.6,265.4V279.8M141.8,254.4H146.2M144.0,247.2V261.6M145.7,244.8H149.7M147.7,237.6V252.0M150.3,260.1H155.1M152.7,252.9V267.3M154.8,258.7H159.2M157.0,251.5V265.9M159.1,245.7H164.7M161.9,238.5V252.9M164.4,252.9H170.0M167.2,245.7V260.1M170.1,260.7H175.9M173.0,253.5V267.9M175.9,247.1H181.7M178.8,239.9V254.3M181.2,250.6H186.2M183.7,243.4V257.8M186.2,252.3H191.6M188.9,245.1V259.5M191.7,264.5H197.7M194.7,257.3V271.7M197.5,267.4H203.5M200.5,260.2V274.6M203.3,273.2H209.3M206.3,266.0V280.4M204.8,259.3H243.9M233.7,252.1V266.5" stroke="#b048aa"/>
<g fill="#b048aa" stroke="none"><circle cx="87.0" cy="259.4" r="1.25"/><circle cx="107.3" cy="260.1" r="1.25"/><circle cx="114.2" cy="259.6" r="1.25"/><circle cx="118.8" cy="258.1" r="1.25"/><circle cx="123.2" cy="259.9" r="1.25"/><circle cx="127.5" cy="261.0" r="1.25"/><circle cx="131.5" cy="262.5" r="1.25"/><circle cx="135.6" cy="264.5" r="1.25"/><circle cx="139.6" cy="272.6" r="1.25"/><circle cx="144.0" cy="254.4" r="1.25"/><circle cx="147.7" cy="244.8" r="1.25"/><circle cx="152.7" cy="260.1" r="1.25"/><circle cx="157.0" cy="258.7" r="1.25"/><circle cx="161.9" cy="245.7" r="1.25"/><circle cx="167.2" cy="252.9" r="1.25"/><circle cx="173.0" cy="260.7" r="1.25"/><circle cx="178.8" cy="247.1" r="1.25"/><circle cx="183.7" cy="250.6" r="1.25"/><circle cx="188.9" cy="252.3" r="1.25"/><circle cx="194.7" cy="264.5" r="1.25"/><circle cx="200.5" cy="267.4" r="1.25"/><circle cx="206.3" cy="273.2" r="1.25"/><circle cx="233.7" cy="259.3" r="1.25"/></g>
</g>
<rect x="275.5" y="177.3" width="113.8" height="42.9" fill="#fff" stroke="#3a3a3a" stroke-width="0.8"/>
<text x="359.4" y="191.6" text-anchor="end" font-size="11.72" fill="#000">NuSTAR FPMA</text>
<path d="M365.8,187.8 H383.2" stroke="#3b1f93" stroke-width="1.8"/>
<circle cx="374.5" cy="187.8" r="2.5" fill="#3b1f93" fill-opacity="0.9" stroke="#3b1f93" stroke-width="1.8"/>
<text x="359.4" y="203.2" text-anchor="end" font-size="11.72" fill="#000">NuSTAR FPMB</text>
<path d="M365.8,199.3 H383.2" stroke="#1479c9" stroke-width="1.8"/>
<circle cx="374.5" cy="199.3" r="2.5" fill="#1479c9" fill-opacity="0.9" stroke="#1479c9" stroke-width="1.8"/>
<text x="359.4" y="214.8" text-anchor="end" font-size="11.72" fill="#000">Swift XRT</text>
<path d="M365.8,210.8 H383.2" stroke="#b048aa" stroke-width="1.8"/>
<circle cx="374.5" cy="210.8" r="2.5" fill="#b048aa" fill-opacity="0.9" stroke="#b048aa" stroke-width="1.8"/>
<g stroke="#000" stroke-width="1.3" fill="none">
<path d="M65.64,29.25v2.4M65.64,225.30v-2.4M65.64,225.30v2.4M65.64,294.45v-2.4M77.02,29.25v2.4M77.02,225.30v-2.4M77.02,225.30v2.4M77.02,294.45v-2.4M86.64,29.25v2.4M86.64,225.30v-2.4M86.64,225.30v2.4M86.64,294.45v-2.4M94.97,29.25v2.4M94.97,225.30v-2.4M94.97,225.30v2.4M94.97,294.45v-2.4M102.32,29.25v2.4M102.32,225.30v-2.4M102.32,225.30v2.4M102.32,294.45v-2.4M108.90,29.25v4.6M108.90,225.30v-4.6M108.90,225.30v4.6M108.90,294.45v-4.6M152.16,29.25v2.4M152.16,225.30v-2.4M152.16,225.30v2.4M152.16,294.45v-2.4M177.46,29.25v2.4M177.46,225.30v-2.4M177.46,225.30v2.4M177.46,294.45v-2.4M195.42,29.25v2.4M195.42,225.30v-2.4M195.42,225.30v2.4M195.42,294.45v-2.4M209.34,29.25v2.4M209.34,225.30v-2.4M209.34,225.30v2.4M209.34,294.45v-2.4M220.72,29.25v2.4M220.72,225.30v-2.4M220.72,225.30v2.4M220.72,294.45v-2.4M230.34,29.25v2.4M230.34,225.30v-2.4M230.34,225.30v2.4M230.34,294.45v-2.4M238.67,29.25v2.4M238.67,225.30v-2.4M238.67,225.30v2.4M238.67,294.45v-2.4M246.02,29.25v2.4M246.02,225.30v-2.4M246.02,225.30v2.4M246.02,294.45v-2.4M252.60,29.25v4.6M252.60,225.30v-4.6M252.60,225.30v4.6M252.60,294.45v-4.6M295.86,29.25v2.4M295.86,225.30v-2.4M295.86,225.30v2.4M295.86,294.45v-2.4M321.16,29.25v2.4M321.16,225.30v-2.4M321.16,225.30v2.4M321.16,294.45v-2.4M339.12,29.25v2.4M339.12,225.30v-2.4M339.12,225.30v2.4M339.12,294.45v-2.4M353.04,29.25v2.4M353.04,225.30v-2.4M353.04,225.30v2.4M353.04,294.45v-2.4M364.42,29.25v2.4M364.42,225.30v-2.4M364.42,225.30v2.4M364.42,294.45v-2.4M374.04,29.25v2.4M374.04,225.30v-2.4M374.04,225.30v2.4M374.04,294.45v-2.4M382.37,29.25v2.4M382.37,225.30v-2.4M382.37,225.30v2.4M382.37,294.45v-2.4M389.72,29.25v2.4M389.72,225.30v-2.4M389.72,225.30v2.4M389.72,294.45v-2.4M51.9,221.5h2.4M396.1,221.5h-2.4M51.9,217.8h2.4M396.1,217.8h-2.4M51.9,214.7h2.4M396.1,214.7h-2.4M51.9,211.9h2.4M396.1,211.9h-2.4M51.9,209.4h4.6M396.1,209.4h-4.6M51.9,193.0h2.4M396.1,193.0h-2.4M51.9,183.4h2.4M396.1,183.4h-2.4M51.9,176.6h2.4M396.1,176.6h-2.4M51.9,171.3h2.4M396.1,171.3h-2.4M51.9,167.0h2.4M396.1,167.0h-2.4M51.9,163.3h2.4M396.1,163.3h-2.4M51.9,160.2h2.4M396.1,160.2h-2.4M51.9,157.4h2.4M396.1,157.4h-2.4M51.9,154.9h4.6M396.1,154.9h-4.6M51.9,138.5h2.4M396.1,138.5h-2.4M51.9,128.9h2.4M396.1,128.9h-2.4M51.9,122.1h2.4M396.1,122.1h-2.4M51.9,116.8h2.4M396.1,116.8h-2.4M51.9,112.5h2.4M396.1,112.5h-2.4M51.9,108.8h2.4M396.1,108.8h-2.4M51.9,105.7h2.4M396.1,105.7h-2.4M51.9,102.9h2.4M396.1,102.9h-2.4M51.9,100.4h4.6M396.1,100.4h-4.6M51.9,84.0h2.4M396.1,84.0h-2.4M51.9,74.4h2.4M396.1,74.4h-2.4M51.9,67.6h2.4M396.1,67.6h-2.4M51.9,62.3h2.4M396.1,62.3h-2.4M51.9,58.0h2.4M396.1,58.0h-2.4M51.9,54.3h2.4M396.1,54.3h-2.4M51.9,51.2h2.4M396.1,51.2h-2.4M51.9,48.4h2.4M396.1,48.4h-2.4M51.9,45.9h4.6M396.1,45.9h-4.6M51.9,287.4h4.6M396.1,287.4h-4.6M51.9,273.6h4.6M396.1,273.6h-4.6M51.9,259.8h4.6M396.1,259.8h-4.6M51.9,246.0h4.6M396.1,246.0h-4.6M51.9,232.2h4.6M396.1,232.2h-4.6" stroke-width="1.1"/>
<rect x="51.85" y="29.25" width="344.30" height="265.20" stroke-width="1.45"/>
<path d="M51.85,225.30H396.15" stroke-width="1.4"/>
</g>
<g font-size="11" fill="#000">
<text x="44.9" y="50.3" text-anchor="end">10<tspan dy="-5.2" font-size="8.8">0</tspan></text>
<text x="44.9" y="104.8" text-anchor="end">10<tspan dy="-5.2" font-size="8.8">-1</tspan></text>
<text x="44.9" y="159.3" text-anchor="end">10<tspan dy="-5.2" font-size="8.8">-2</tspan></text>
<text x="44.9" y="213.8" text-anchor="end">10<tspan dy="-5.2" font-size="8.8">-3</tspan></text>
<text x="45.3" y="236.7" text-anchor="end">4</text>
<text x="45.3" y="250.5" text-anchor="end">2</text>
<text x="45.3" y="264.3" text-anchor="end">0</text>
<text x="45.3" y="278.1" text-anchor="end">-2</text>
<text x="45.3" y="291.9" text-anchor="end">-4</text>
<text x="109.1" y="310.6" text-anchor="middle">1</text>
<text x="252.8" y="310.6" text-anchor="middle">10</text>
<text x="396.5" y="310.6" text-anchor="middle">100</text>
<text x="224.1" y="326.8" text-anchor="middle" font-size="11.4">Energy (keV)</text>
</g>
<text x="66.0" y="50.8" font-size="14.1" fill="#000">Epoch 2, Model A</text>
<text x="59.4" y="285.1" font-size="11.7" fill="#000">&#967;<tspan dy="1.4" font-size="9">&#957;</tspan><tspan dy="-7.6" font-size="9.6" dx="0.6">2</tspan><tspan dy="6.2">=1.014</tspan></text>
<text transform="translate(19.3,203.8) rotate(-90)" font-size="11.6" fill="#000">keV<tspan dy="-5.2" font-size="9.0">2</tspan><tspan dy="5.2"> (Photons cm</tspan><tspan dy="-5.2" font-size="9.0">-2</tspan><tspan dy="5.2"> s</tspan><tspan dy="-5.2" font-size="9.0">-1</tspan><tspan dy="5.2"> keV</tspan><tspan dy="-5.2" font-size="9.0">-1</tspan><tspan dy="5.2">)</tspan></text>
<text transform="translate(26.0,270.2) rotate(-90)" font-size="12.2" fill="#000">&#916;&#967;<tspan dy="-5.6" font-size="9.6">2</tspan></text>
</svg>
</body></html>
